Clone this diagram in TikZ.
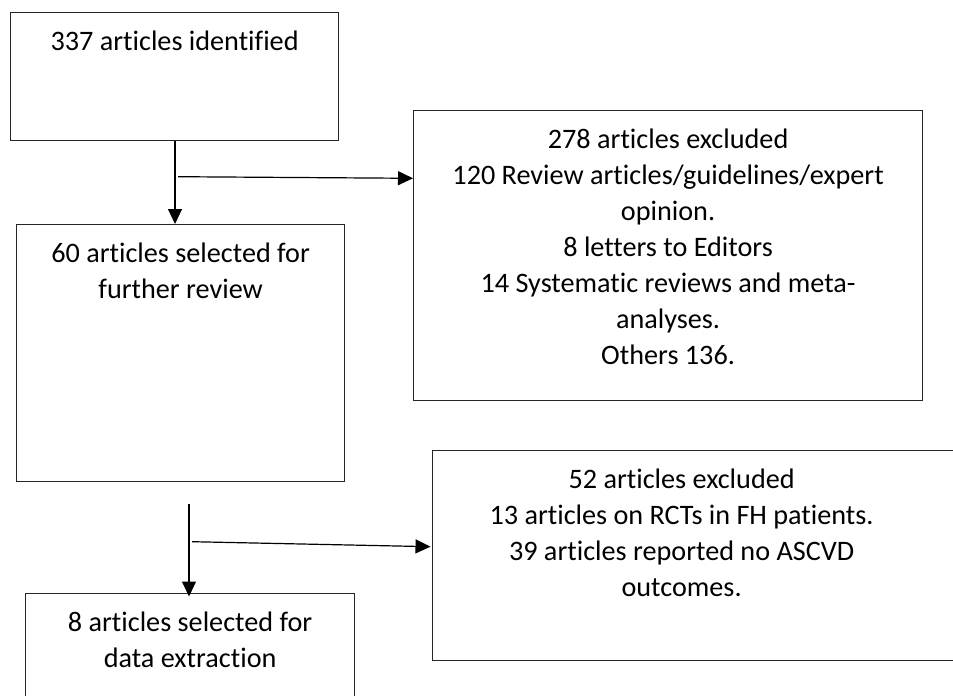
\documentclass[tikz,border=0pt]{standalone}
\usepackage{fontspec}
\setmainfont{Carlito}[Ligatures=NoCommon]
\usetikzlibrary{arrows.meta}
\tikzset{
  box/.style={draw=black!85, line width=1.2pt, inner sep=0pt, anchor=north west, font=\fontsize{28.2}{36}\selectfont},
  flow/.style={draw=black, line width=1.2pt, -{Triangle[length=15pt,width=14pt]}},
}
\newcommand{\boxtext}[4]{\parbox[t][#2][t]{#1}{\centering\rightskip=#3 plus 1fil\rule{0pt}{38pt}#4\par}}
\begin{document}
\begin{tikzpicture}[x=1pt,y=-1pt]
\useasboundingbox (0,0) rectangle (953,696);
\clip (0,0) rectangle (953,696);
\fill[white] (0,0) rectangle (953,696);

\node[box] (b1) at (10,12) {\boxtext{328pt}{128pt}{0pt}{337 articles identified}};
\node[box] (b2) at (16,224) {\boxtext{328pt}{257pt}{0pt}{60 articles selected for\\ further review}};
\node[box] (b3) at (413,110) {\boxtext{509pt}{290pt}{0pt}{278 articles excluded\\ 120 Review articles/guidelines/expert\\ opinion.\\ 8 letters to Editors\\ 14 Systematic reviews and meta-\\ analyses.\\ Others 136.}};
\node[box] (b4) at (25,593) {\boxtext{329pt}{140pt}{0pt}{8 articles selected for\\ data extraction}};
\node[box] (b5) at (432,450) {\boxtext{560pt}{210pt}{62pt}{52 articles excluded\\ 13 articles on RCTs in FH patients.\\ 39 articles reported no ASCVD\\ outcomes.}};

\coordinate (j1) at (178,176.7);
\coordinate (s2) at (189,504);
\coordinate (j2) at (192,541.7);

\draw[flow] (b1.south -| 175,0) -- (b2.north -| 175,0);
\draw[flow] (j1) -- (b3.west |- 0,178.3);
\draw[flow] (s2) -- ([yshift=-3.5pt]s2 |- b4.north);
\draw[flow] (j2) -- ([xshift=-1.5pt]b5.west |- 0,546.7);
\end{tikzpicture}
\end{document}
